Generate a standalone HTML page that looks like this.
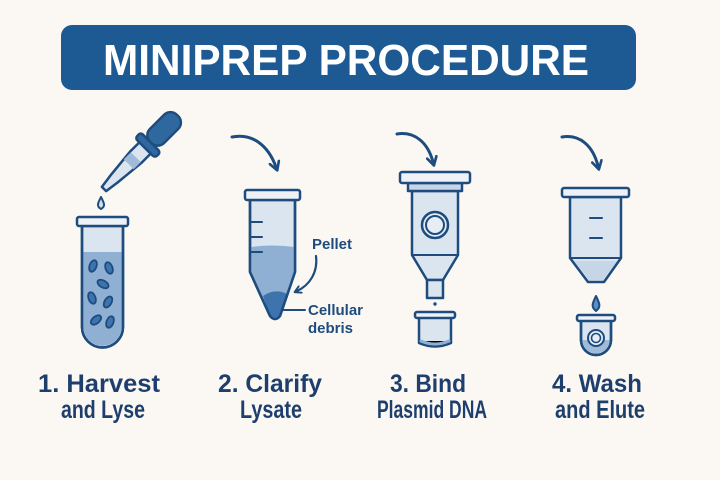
<!DOCTYPE html>
<html><head><meta charset="utf-8"><style>
html,body{margin:0;padding:0;background:#fbf8f3;}
svg{display:block;}
</style></head><body>
<svg width="720" height="480" viewBox="0 0 720 480" xmlns="http://www.w3.org/2000/svg">
<defs>
<marker id="ah" viewBox="0 0 10 10" refX="5" refY="5" markerWidth="4" markerHeight="4" orient="auto"><path d="M1,1 L8,5 L1,9" fill="none" stroke="#1e4c7e" stroke-width="2.2" stroke-linecap="round" stroke-linejoin="round"/></marker>
</defs>
<rect width="720" height="480" fill="#fbf8f3"/>
<rect x="61" y="25" width="575" height="65" rx="11" fill="#1d5a94"/>
<text x="346" y="75" text-anchor="middle" font-family="Liberation Sans, sans-serif" font-weight="bold" font-size="44" fill="#fff" textLength="486" lengthAdjust="spacingAndGlyphs">MINIPREP PROCEDURE</text>

<g stroke="#1e4c7e" stroke-width="2.5" stroke-linejoin="round" stroke-linecap="round">
<!-- pipette -->
<g transform="translate(104,189) rotate(45)">
<path d="M-3,0 L3,0 L5,-14 L8,-45 L8,-58 L-8,-58 L-8,-45 L-5,-14 Z" fill="#dce5ef"/>
<path d="M-7,-35 L7,-35 L7,-45 L-7,-45 Z" fill="#9fbbd8" stroke="none"/>
<rect x="-14" y="-66" width="28" height="8" rx="3" fill="#2f679f"/>
<rect x="-10" y="-104" width="20" height="38" rx="9" fill="#2f679f"/>
</g>
<path d="M101,197 C98,203 96,206 101,209 C106,206 104,203 101,197Z" fill="#cfdff0" stroke-width="2"/>
<!-- tube 1 -->
<path d="M82,226 L82,327 A20.5,20.5 0 0 0 123,327 L123,226 Z" fill="#dbe5ef"/>
<path d="M83.5,252 L121.5,252 L121.5,327 A19,19 0 0 1 83.5,327 Z" fill="#8fb0d3" stroke="none"/>
<path d="M82,226 L82,327 A20.5,20.5 0 0 0 123,327 L123,226" fill="none"/>
<rect x="77" y="217" width="51" height="9" rx="2" fill="#eef2f6"/>
<g fill="#3d74ad" stroke-width="1.8">
<ellipse cx="93" cy="266" rx="3.5" ry="6" transform="rotate(20 93 266)"/>
<ellipse cx="109" cy="268" rx="3.5" ry="6" transform="rotate(-20 109 268)"/>
<ellipse cx="103" cy="284" rx="3.5" ry="6" transform="rotate(-60 103 284)"/>
<ellipse cx="92" cy="298" rx="3.5" ry="6" transform="rotate(-20 92 298)"/>
<ellipse cx="108" cy="302" rx="3.5" ry="6" transform="rotate(30 108 302)"/>
<ellipse cx="96" cy="320" rx="3.5" ry="6" transform="rotate(50 96 320)"/>
<ellipse cx="110" cy="322" rx="3.5" ry="6" transform="rotate(20 110 322)"/>
</g>
<!-- arrows -->
<path d="M232,137 C252,133 268,145 276,167" fill="none" stroke-width="3" marker-end="url(#ah)"/>
<path d="M397,134 C415,131 428,143 433,162" fill="none" stroke-width="3" marker-end="url(#ah)"/>
<path d="M562,137 C580,134 593,146 598,166" fill="none" stroke-width="3" marker-end="url(#ah)"/>
<!-- tube 2 -->
<path d="M250,200 L250,272 L270,316 Q275,322 280,316 L295,272 L295,200 Z" fill="#dbe5ef"/>
<path d="M251,247 Q272,244 294,247 L294,272 L279,315 Q275,320 271,315 L251,272 Z" fill="#8fb0d3" stroke="none"/>
<path d="M263,296 Q275,288 287,294 L280,315 Q275,320 270,315 Z" fill="#3d74ad" stroke="none"/>
<path d="M250,200 L250,272 L270,316 Q275,322 280,316 L295,272 L295,200" fill="none"/>
<rect x="245" y="190" width="55" height="10" rx="2" fill="#eef2f6"/>
<path d="M250,222 L262,222 M250,237 L262,237 M250,252 L262,252" stroke-width="2"/>
<path d="M316,256 C318,272 310,285 297,291" fill="none" stroke-width="2.2" marker-end="url(#ah)"/>
<path d="M283,310 L305,310" stroke-width="2"/>
<!-- column 3 -->
<path d="M412,191 L412,255 L427,280 L443,280 L458,255 L458,191 Z" fill="#dbe5ef"/>
<rect x="427" y="280" width="16" height="18" fill="#dbe5ef"/>
<rect x="408" y="183" width="54" height="8" fill="#c7d6e6"/>
<rect x="400" y="172" width="70" height="11" rx="2" fill="#eef2f6"/>
<path d="M412,255 L458,255" stroke-width="2"/>
<circle cx="435" cy="225" r="13" fill="#e6edf5"/>
<circle cx="435" cy="225" r="9" fill="none" stroke-width="2"/>
<circle cx="435" cy="304" r="1.2" fill="#1e4c7e" stroke-width="1"/>
<path d="M419,317 L419,343 Q435,350 451,343 L451,317" fill="#dbe5ef"/>
<path d="M421,341 Q435,347 449,341" stroke="#8fb0d3" stroke-width="3"/>
<rect x="415" y="312" width="40" height="6" rx="2" fill="#eef2f6"/>
<!-- column 4 -->
<path d="M570,197 L570,258 L588,282 L604,282 L621,258 L621,197 Z" fill="#dbe5ef"/>
<path d="M570,258 L621,258" stroke-width="2"/>
<path d="M574,261 L617,261 L603,280 L589,280 Z" fill="#c7d6e6" stroke="none"/>
<rect x="562" y="188" width="67" height="9" rx="2" fill="#eef2f6"/>
<path d="M590,218 L602,218 M590,238 L602,238" stroke-width="2"/>
<path d="M596,296 C592,304 591,307 596,311 C601,307 600,304 596,296Z" fill="#5b8fc4" stroke-width="2"/>
<path d="M581,320 L581,340 A15,15 0 0 0 611,340 L611,320" fill="#dbe5ef"/>
<path d="M582.5,340 A13.5,13.5 0 0 0 609.5,340 Z" fill="#9fbbd8" stroke="none"/>
<path d="M581,320 L581,340 A15,15 0 0 0 611,340 L611,320" fill="none"/>
<rect x="577" y="315" width="38" height="6" rx="2" fill="#eef2f6"/>
<circle cx="596" cy="338" r="8" fill="#e6edf5" stroke-width="2"/>
<circle cx="596" cy="338" r="4.5" fill="none" stroke-width="1.6"/>
</g>

<g font-family="Liberation Sans, sans-serif" fill="#1e4c7e" font-weight="bold">
<text x="312" y="249" font-size="15">Pellet</text>
<text x="308" y="315" font-size="15">Cellular</text>
<text x="308" y="333" font-size="15">debris</text>
</g>
<g font-family="Liberation Sans Narrow, Liberation Sans, sans-serif" fill="#1e3f6e" font-weight="bold" font-size="25" text-anchor="middle">
<text x="99" y="392" textLength="122" lengthAdjust="spacingAndGlyphs">1. Harvest</text>
<text x="103" y="418" textLength="84" lengthAdjust="spacingAndGlyphs">and Lyse</text>
<text x="270" y="392" textLength="104" lengthAdjust="spacingAndGlyphs">2. Clarify</text>
<text x="271" y="418" textLength="62" lengthAdjust="spacingAndGlyphs">Lysate</text>
<text x="428" y="392" textLength="76" lengthAdjust="spacingAndGlyphs">3. Bind</text>
<text x="432" y="418" textLength="110" lengthAdjust="spacingAndGlyphs">Plasmid DNA</text>
<text x="597" y="392" textLength="90" lengthAdjust="spacingAndGlyphs">4. Wash</text>
<text x="600" y="418" textLength="90" lengthAdjust="spacingAndGlyphs">and Elute</text>
</g>
</svg>
</body></html>
